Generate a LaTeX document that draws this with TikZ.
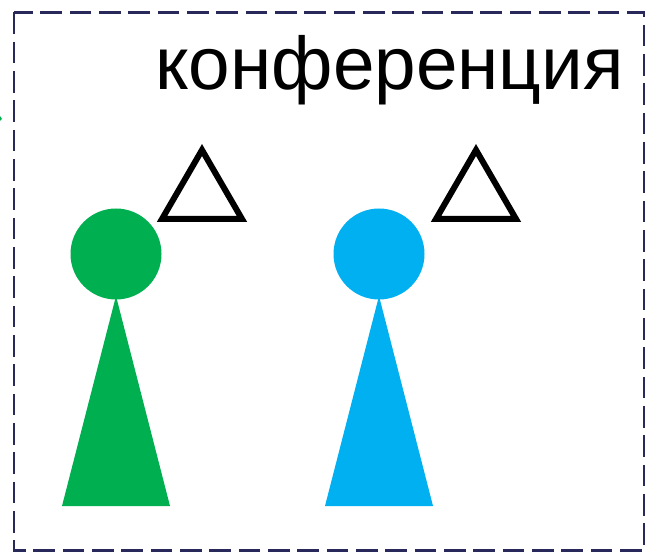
\documentclass[tikz,border=0pt]{standalone}
\usepackage{fontspec}
\setmainfont{Liberation Sans}
\definecolor{framec}{RGB}{40,40,90}
\definecolor{greenp}{RGB}{0,176,80}
\definecolor{bluep}{RGB}{0,176,240}
\tikzset{x=0.75pt,y=-0.75pt,
  frameb/.style={draw=framec,line width=2.2pt,dash pattern=on 16.2pt off 5.8pt},
  tri/.style={draw=black,line width=4.5pt,miter limit=10,line join=miter}}
\begin{document}
\begin{tikzpicture}
\useasboundingbox (0,0) rectangle (652,555);
\draw[frameb] (14,12.4) rectangle (644,550.4);
\node[anchor=east,inner sep=0pt,font=\fontsize{56pt}{56pt}\selectfont] (title) at (624,70) {конференция};
\fill[greenp] (0,116) -- (2,119) -- (0,121) -- cycle;
\fill[greenp] (116,254) circle (45.5);
\fill[greenp] (116,296) -- (170,506) -- (62,506) -- cycle;
\fill[bluep] (379,254) circle (45.5);
\fill[bluep] (379,296) -- (433,506) -- (325,506) -- cycle;
\draw[tri] (202,150) -- (242,219) -- (162,219) -- cycle;
\draw[tri] (476,150) -- (516,219) -- (436,219) -- cycle;
\end{tikzpicture}
\end{document}
